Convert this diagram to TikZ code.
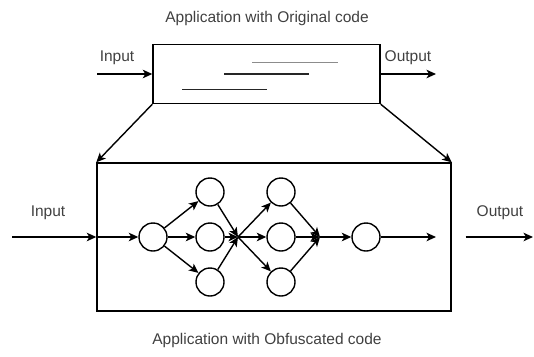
\documentclass[tikz,border=0pt]{standalone}
\usepackage{fontspec}
\setmainfont{Liberation Sans}
\usetikzlibrary{arrows.meta}
\begin{document}
\begin{tikzpicture}[x=1pt,y=-1pt,
  line width=1.4pt,
  arr/.style={-{Stealth[length=9.5pt,width=8.5pt,inset=2.5pt]}},
  neuron/.style={circle,draw,minimum size=28pt,inner sep=0pt},
  lbl/.style={font=\fontsize{15.5}{18}\selectfont,text=black!75},
  codeline/.style={line width=1.9pt}]
  \useasboundingbox (0,0) rectangle (534,356);
  % original application
  \node[draw,minimum width=227pt,minimum height=59pt,inner sep=0pt] (orig) at (266.5,74) {};
  \draw[codeline,gray!90] (252,62.5) -- (338,62.5);
  \draw[codeline,black!85] (224,74) -- (309,74);
  \draw[codeline,black!85] (182,89.5) -- (267,89.5);
  \node[lbl] (ttop) at (267,18) {Application with Original code};
  \coordinate (tin) at (97,74);
  \coordinate (tout) at (436,74);
  \draw[arr] (tin) -- (orig.west);
  \draw[arr] (orig.east) -- (tout);
  \node[lbl] (lin1) at (117,58) {Input};
  \node[lbl] (lout1) at (408,58) {Output};
  % obfuscated application
  \node[draw,minimum width=354pt,minimum height=148pt,inner sep=0pt] (obf) at (274,237) {};
  \draw[arr] (orig.south west) -- (obf.north west);
  \draw[arr] (orig.south east) -- (obf.north east);
  \node[lbl] (tbot) at (267,340) {Application with Obfuscated code};
  % outer input / output
  \coordinate (bin) at (12,237);
  \coordinate (bout) at (533,237);
  \draw[arr] (bin) -- (obf.west);
  \node[lbl] (lin2) at (48,213) {Input};
  \draw[arr] (obf.east) ++(14,0) coordinate (boutstart) -- (bout);
  \node[lbl] (lout2) at (500,213) {Output};
  % network
  \node[neuron] (n1) at (153,237) {};
  \node[neuron] (a1) at (210,192) {};
  \node[neuron] (a2) at (210,237) {};
  \node[neuron] (a3) at (210,282) {};
  \node[neuron] (b1) at (281,192) {};
  \node[neuron] (b2) at (281,237) {};
  \node[neuron] (b3) at (281,282) {};
  \node[neuron] (c1) at (366,237) {};
  \coordinate (j1) at (238,237);
  \coordinate (j2) at (320,237);
  \coordinate (nout) at (436,237);
  \draw[arr] (obf.west) -- (n1);
  \foreach \t in {a1,a2,a3} \draw[arr] (n1) -- (\t);
  \foreach \s in {a1,a2,a3} \draw[arr] (\s) -- (j1);
  \foreach \t in {b1,b2,b3} \draw[arr] (j1) -- (\t);
  \foreach \s in {b1,b2,b3} \draw[arr] (\s) -- (j2);
  \draw[arr] (j2) -- (c1);
  \draw[arr] (c1) -- (nout);
\end{tikzpicture}
\end{document}
